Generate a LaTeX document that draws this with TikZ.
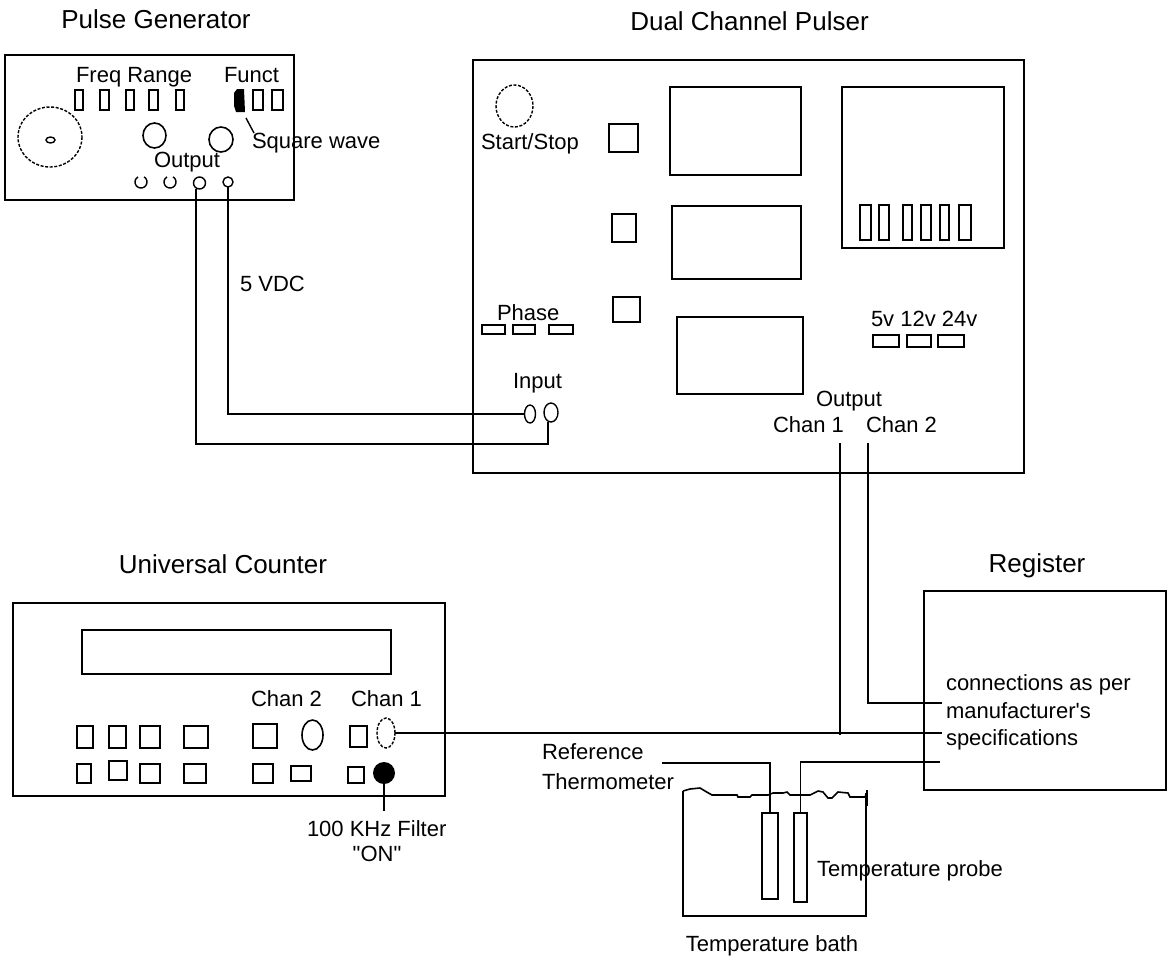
\documentclass[tikz,border=0pt]{standalone}
\usepackage{fontspec}
\setmainfont{Liberation Sans}
\newfontfamily\rawfont{Liberation Sans}
\usetikzlibrary{shapes.geometric,fit}
\begin{document}
\begin{tikzpicture}[x=1pt,y=-1pt,
  every node/.style={inner sep=0pt, outer sep=0pt},
  ln/.style={line width=1.6pt},
  thin/.style={line width=1.4pt},
  lbl/.style={font=\fontsize{22}{26}\selectfont},
  ttl/.style={font=\fontsize{26}{30}\selectfont},
  dev/.style={draw, line width=1.8pt, rectangle},
  dsh/.style={line width=1.4pt, dash pattern=on 3pt off 1.6pt},
  jack/.style={draw, line width=1.4pt, ellipse},
  wire/.style={draw=black, line width=1.8pt}
]
\fill[white] (0,0) rectangle (1167,962);
\useasboundingbox (0,0) rectangle (1167,962);

% ---------------- Pulse Generator ----------------
\node[ttl, anchor=base] (tpg) at (156,28.6) {Pulse Generator};
\node[dev, fit={(5,55) (294,200)}] (pg) {};
\draw[dsh] (50,137) ellipse [x radius=32, y radius=30];
\draw[thin] (50.5,140) ellipse [x radius=4.5, y radius=3];
\node[lbl, anchor=base west] (tfreq) at (76,82.5) {Freq Range};
\foreach \a/\b in {75/83,100/109,126/134,149/158,176/184}
  \draw[thin] (\a,90) rectangle (\b,110);
\node[lbl, anchor=base west] (tfunct) at (224,82.5) {Funct};
\fill (234,93) -- (237,89) -- (244,89) -- (245,112) -- (236,112) -- (234,106) -- cycle;
\draw[thin] (253,90) rectangle (263,110);
\draw[thin] (272,90) rectangle (283,110);
\coordinate (fsw) at (246,118);
\node[lbl, anchor=base west] (tsq) at (252,148) {Square wave};
\draw[thin] (fsw) -- (254,133);
\draw[ln] (154.5,135.5) ellipse [x radius=11.5, y radius=12.5];
\draw[ln] (221,139.5) ellipse [x radius=12, y radius=12.5];
\node[lbl, anchor=base west] (tpgout) at (154,167.5) {Output};
\draw[thin] ([shift={(-60:6)}]141,182) arc[start angle=-60, end angle=240, radius=6];
\draw[thin] ([shift={(-60:6)}]170,182) arc[start angle=-60, end angle=240, radius=6];
\node[jack, minimum width=12pt, minimum height=12pt] (pgo3) at (199.5,183) {};
\node[jack, minimum width=10pt, minimum height=10pt] (pgo4) at (228,182) {};
\node[lbl, anchor=base west] (t5v) at (240,291) {5 VDC};

% ---------------- Dual Channel Pulser ----------------
\node[ttl, anchor=base] (tdcp) at (749.5,30.3) {Dual Channel Pulser};
\node[dev, fit={(473,60) (1024,473)}] (dcp) {};
\draw[dsh] (514.5,106) ellipse [x radius=18.5, y radius=21];
\node[lbl, anchor=base west] (tss) at (481,149) {Start/Stop};
\draw[ln] (609,124) rectangle (638,152);
\draw[ln] (612,214) rectangle (636,242);
\draw[ln] (613,297) rectangle (640,322);
\draw[ln] (670,87) rectangle (801,175);
\draw[ln] (672,206) rectangle (801,279);
\draw[ln] (677,317) rectangle (803,394);
\draw[ln] (842,87) rectangle (1004,248);
\foreach \a/\b in {860/871,879/889,903/912,921/931,940/949,959/971}
  \draw[thin] (\a,205) rectangle (\b,240);
\node[lbl, anchor=base west] (tphase) at (497,320) {Phase};
\foreach \a/\b in {482/505,513/535,549/573}
  \draw[thin] (\a,325) rectangle (\b,334);
\node[lbl, anchor=base west] (tin) at (513,388) {Input};
\node[jack, minimum width=11pt, minimum height=18pt] (in1) at (530,414) {};
\node[jack, minimum width=14pt, minimum height=19pt] (in2) at (551,412.5) {};
\node[lbl, anchor=base west] (tvolt) at (871,326) {5v 12v 24v};
\foreach \a/\b in {873/899,907/931,938/964}
  \draw[thin] (\a,335) rectangle (\b,347);
\node[lbl, anchor=base west] (tdout) at (816,406) {Output};
\node[lbl, anchor=base east] (tc1) at (844,432.5) {Chan 1};
\node[lbl, anchor=base west] (tc2) at (866,432.5) {Chan 2};
\coordinate (ch1s) at (840,443);
\coordinate (ch2s) at (868,443);

% wires from pulse generator to pulser input
\coordinate (wa) at (196,444);
\coordinate (wb) at (548,444);
\draw[wire] (wa |- pgo3.south) -- (wa) -- (wb) -- (wb |- in2.south);
\draw[wire] (pgo4.south) |- (in1.west);

% ---------------- Universal Counter ----------------
\node[ttl, anchor=base] (tuc) at (223,573.6) {Universal Counter};
\node[dev, fit={(13,603) (445,796)}] (uc) {};
\draw[ln] (82,630) rectangle (391,674);
\node[lbl, anchor=base west] (tuc2) at (251,706) {Chan 2};
\node[lbl, anchor=base west] (tuc1) at (351,706) {Chan 1};
\foreach \a/\b in {77/93,109/126,140/160,184/208}
  \draw[ln] (\a,726) rectangle (\b,748);
\draw[ln] (253,724) rectangle (277,748);
\draw[ln] (312.5,735) ellipse [x radius=10.5, y radius=15];
\draw[ln] (350,726) rectangle (367,747);
\node[draw, ellipse, dsh, minimum width=18pt, minimum height=30pt] (ucj1) at (386,733) {};
\draw[ln] (77,764) rectangle (91,783);
\draw[ln] (109,761) rectangle (127,780);
\draw[ln] (140,764) rectangle (160,783);
\draw[ln] (184,764) rectangle (206,783);
\draw[ln] (253,764) rectangle (273,783);
\draw[ln] (291,766) rectangle (311,781);
\draw[ln] (348,767) rectangle (364,783);
\node[circle, fill=black, minimum size=22pt] (blob) at (384,773) {};
\node[lbl, anchor=base west] (tfilt) at (307,836.5) {100 KHz Filter};
\node[lbl, anchor=base] (ton) at (377,861) {\rawfont "ON"};
\draw[thin] (blob.south) -- ++(0,27);

% ---------------- Register ----------------
\node[ttl, anchor=base] (treg) at (1037,572.6) {Register};
\node[dev, fit={(924,591) (1166,790)}] (reg) {};
\node[lbl, anchor=base west] (tr1) at (946,690) {connections as per};
\node[lbl, anchor=base west] (tr2) at (946,718) {\rawfont manufacturer's};
\node[lbl, anchor=base west] (tr3) at (946,745) {specifications};
\coordinate (rc1) at (942,703);
\coordinate (rc2) at (942,733);
\coordinate (rc3) at (940,762);

% ---------------- Temperature bath ----------------
\draw[ln] (683,791) -- (690,789) -- (700,788) -- (705,791) -- (712,795) -- (737,795)
  -- (738,797) -- (750,797) -- (752,795) -- (768,795) -- (773,793) -- (783,793)
  -- (787,792) -- (790,795) -- (810,795) -- (818,791) -- (823,792) -- (828,798)
  -- (832,798) -- (838,792) -- (848,793) -- (850,797) -- (865,797) -- (867,793);
\draw[ln] (683,791) -- (683,916) -- (866,916) -- (866,793);
\draw[ln] (867,790) -- (867,806);
\node[draw, thin, minimum width=16pt, minimum height=86pt] (tube1) at (770,856) {};
\node[draw, thin, minimum width=13pt, minimum height=89pt] (tube2) at (800.5,857.5) {};
\node[lbl, anchor=base west] (tref1) at (542,759) {Reference};
\node[lbl, anchor=base west] (tref2) at (542,789) {Thermometer};
\node[lbl, anchor=base west] (tprobe) at (817,876) {Temperature probe};
\node[lbl, anchor=base] (tbath) at (772,951) {Temperature bath};
\coordinate (refs) at (662,763);

% ---------------- connections ----------------
\draw[wire] (ucj1.east) -- (rc2);
\draw[wire] (ch1s) -- (ch1s |- rc2) -- ++(0,2);
\draw[wire] (ch2s) |- (rc1);
\draw[wire] (tube2.north) |- (rc3);
\draw[wire] (refs) -| (tube1.north);
\end{tikzpicture}
\end{document}
